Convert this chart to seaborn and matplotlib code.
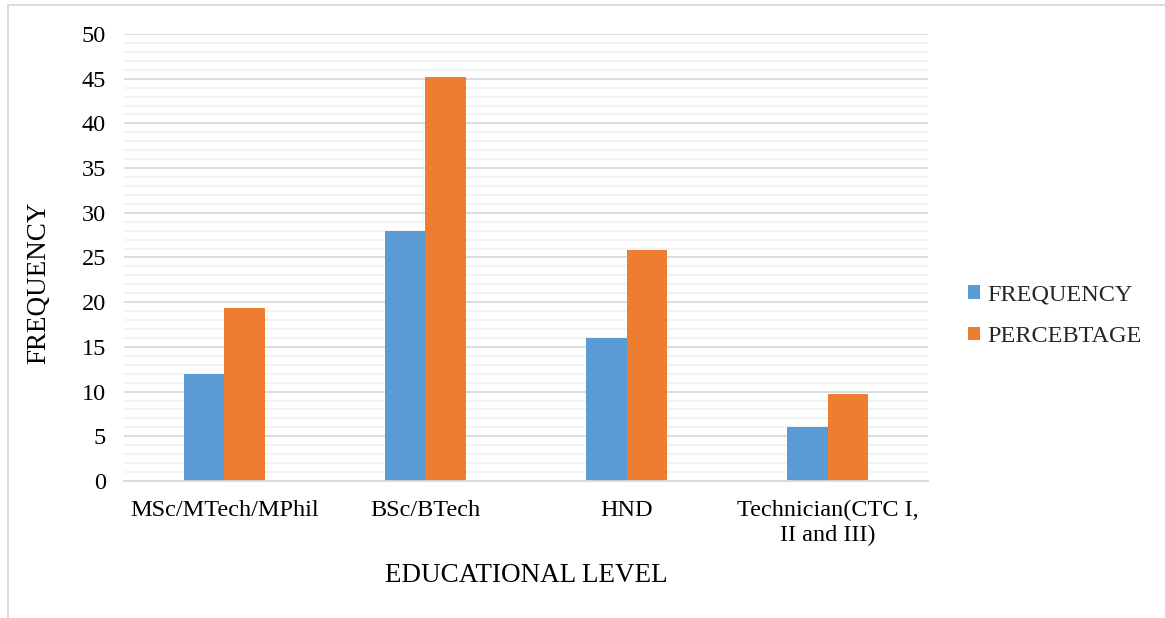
import matplotlib
matplotlib.use("Agg")
import matplotlib.pyplot as plt
from matplotlib.lines import Line2D
from matplotlib.patches import Patch
import seaborn as sns
import pandas as pd
import numpy as np

# Educational level of respondents
levels = ["MSc/MTech/MPhil", "BSc/BTech", "HND", "Technician(CTC I,\nII and III)"]
frequency = [12, 28, 16, 6]
percentage = [19.35, 45.16, 25.81, 9.68]
series = ["FREQUENCY", "PERCEBTAGE"]
colors = ["#5B9BD5", "#ED7D31"]

df = pd.DataFrame({
    "level": levels * 2,
    "value": frequency + percentage,
    "series": [series[0]] * len(levels) + [series[1]] * len(levels),
})

sns.set_theme(style="white")
plt.rcParams["font.family"] = ["Liberation Serif", "DejaVu Serif"]

fig = plt.figure(figsize=(11.65, 6.18), dpi=100)
ax = fig.add_axes([0.1064, 0.2217, 0.6902, 0.7233])

sns.barplot(data=df, x="level", y="value", hue="series", order=levels,
            hue_order=series, palette=colors, width=0.4, gap=0,
            linewidth=0, saturation=1, ax=ax, legend=False, errorbar=None)

ax.set_ylim(0, 50)
ax.set_xlim(-0.5, len(levels) - 0.5)
ax.set_yticks(np.arange(0, 51, 5))
ax.set_yticks(np.arange(0, 51, 1), minor=True)
ax.grid(axis="y", which="minor", color="#f0f0f0", linewidth=1.1)
ax.grid(axis="y", which="major", color="#d9d9d9", linewidth=1.3)
ax.set_axisbelow(True)
for s in ["top", "right", "left"]:
    ax.spines[s].set_visible(False)
ax.spines["bottom"].set_color("#d9d9d9")
ax.spines["bottom"].set_linewidth(1.3)

ax.tick_params(axis="y", length=0, pad=13, labelsize=17.5, labelcolor="black")
ax.tick_params(axis="x", length=0, pad=13.5, labelsize=17.5, labelcolor="black")
for lab in ax.get_xticklabels():
    lab.set_horizontalalignment("center")
    lab.set_multialignment("center")
    lab.set_linespacing(1.25)

ax.set_xlabel("")
ax.set_ylabel("")
fig.text(0.4515, 0.069, "EDUCATIONAL LEVEL", ha="center", va="center",
         fontsize=19.5, color="black")
fig.text(0.033, 0.542, "FREQUENCY", ha="center", va="center",
         rotation=90, fontsize=19.5, color="black")

handles = [Patch(facecolor=c, edgecolor="none") for c in colors]
fig.legend(handles, series, loc="center left", bbox_to_anchor=(0.8225, 0.489),
           frameon=False, fontsize=17.5, handlelength=0.5, handleheight=0.5,
           handletextpad=0.3, labelspacing=0.85, borderaxespad=0)

# chart frame
fig.add_artist(Line2D([0.007, 1.0], [0.992, 0.992], color="#d9d9d9",
                      linewidth=1.3, transform=fig.transFigure))
fig.add_artist(Line2D([0.007, 0.007], [0.0, 0.992], color="#d9d9d9",
                      linewidth=1.3, transform=fig.transFigure))

fig.savefig("out.png", dpi=100, facecolor="white")
